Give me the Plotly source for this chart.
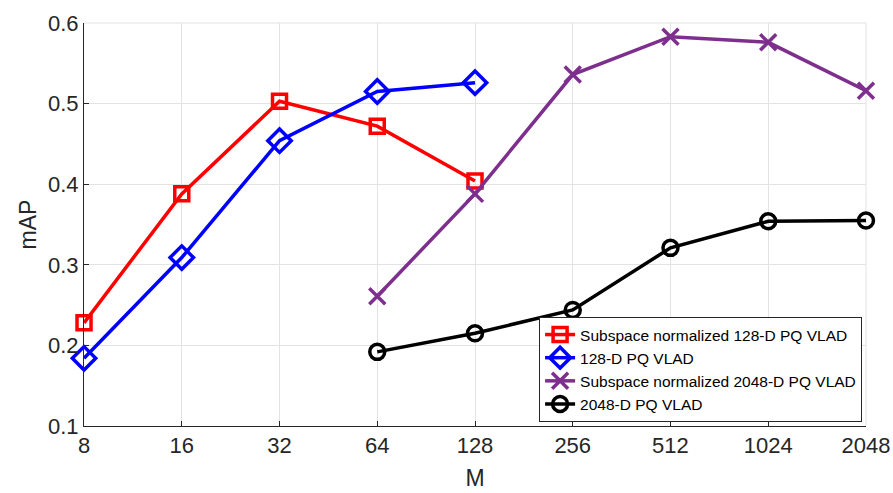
import math
import plotly.graph_objects as go

M_small = [8, 16, 32, 64, 128]
M_large = [64, 128, 256, 512, 1024, 2048]
sn128 = [0.228, 0.388, 0.503, 0.472, 0.404]
pq128 = [0.184, 0.309, 0.454, 0.515, 0.526]
sn2048 = [0.261, 0.388, 0.536, 0.583, 0.576, 0.516]
pq2048 = [0.192, 0.215, 0.244, 0.321, 0.354, 0.355]
xticks = [8, 16, 32, 64, 128, 256, 512, 1024, 2048]
yticks = [0.1, 0.2, 0.3, 0.4, 0.5, 0.6]

series = [
    ("Subspace normalized 128-D PQ VLAD", M_small, sn128, "#ff0000", "square-open", 14),
    ("128-D PQ VLAD", M_small, pq128, "#0000ff", "diamond-open", 18),
    ("Subspace normalized 2048-D PQ VLAD", M_large, sn2048, "#7e2f8e", "x-thin-open", 16),
    ("2048-D PQ VLAD", M_large, pq2048, "#000000", "circle-open", 15),
]

fig = go.Figure()
for name, x, y, c, sym, sz in series:
    fig.add_trace(go.Scatter(
        x=x, y=y, name=name, mode="lines+markers",
        line=dict(color=c, width=3.5),
        marker=dict(symbol=sym, size=sz, color=c, line=dict(color=c, width=3.5)),
        cliponaxis=False,
    ))

font = "Liberation Sans, Arial, sans-serif"
fig.update_layout(
    width=893, height=493,
    margin=dict(l=84, r=27, t=23, b=67),
    paper_bgcolor="white", plot_bgcolor="white",
    font=dict(family=font, color="#262626", size=22),
    legend=dict(
        x=0.995, y=0.01, xanchor="right", yanchor="bottom",
        bgcolor="white", bordercolor="#262626", borderwidth=1,
        font=dict(size=15.5, color="#000000", family=font),
        tracegroupgap=0, itemwidth=30,
    ),
    showlegend=True,
)
fig.update_xaxes(
    type="log", range=[math.log10(8) - 1e-4, math.log10(2048) + 1e-4],
    tickvals=xticks, ticktext=[str(t) for t in xticks],
    showgrid=True, gridcolor="#e3e3e3", gridwidth=1,
    showline=True, linecolor="#262626", linewidth=1,
    ticks="inside", ticklen=5, tickcolor="#262626",
    title=dict(text="M", font=dict(size=23), standoff=12),
    zeroline=False, mirror=False, automargin=False,
)
fig.update_yaxes(
    range=[0.1, 0.6], tickvals=yticks, ticktext=["0.1", "0.2", "0.3", "0.4", "0.5", "0.6"],
    showgrid=True, gridcolor="#e3e3e3", gridwidth=1,
    showline=True, linecolor="#262626", linewidth=1,
    ticks="inside", ticklen=5, tickcolor="#262626",
    title=dict(text="mAP", font=dict(size=23), standoff=4),
    zeroline=False, automargin=False,
)
fig.add_shape(type="line", xref="paper", yref="paper", x0=0, x1=1, y0=1, y1=1,
              line=dict(color="#e3e3e3", width=1), layer="below")
fig.add_shape(type="line", xref="paper", yref="paper", x0=1, x1=1, y0=0, y1=1,
              line=dict(color="#e3e3e3", width=1), layer="below")
fig.write_html("out.html")
